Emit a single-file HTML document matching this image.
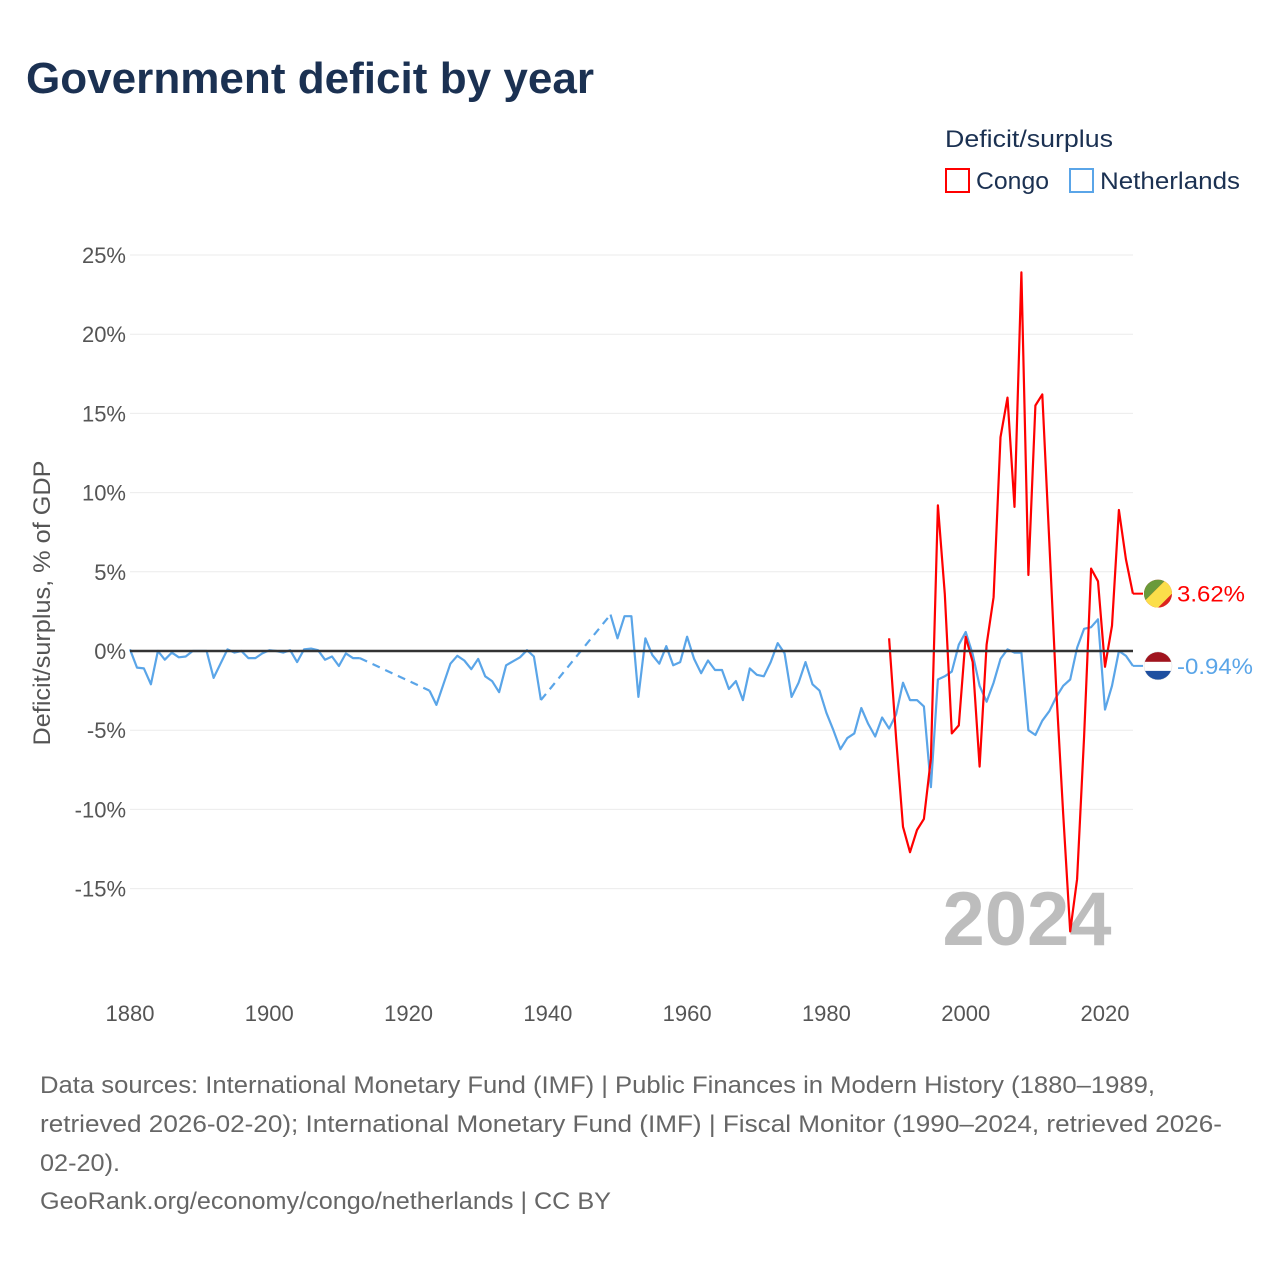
<!DOCTYPE html>
<html><head><meta charset="utf-8">
<style>
body{margin:0;background:#fff;width:1280px;height:1280px;overflow:hidden;font-family:"Liberation Sans",sans-serif;}
svg text{font-family:"Liberation Sans",sans-serif;}
</style></head>
<body>
<svg id="chart" width="1280" height="1280" xmlns="http://www.w3.org/2000/svg">
<text x="26" y="93" font-size="44" font-weight="bold" fill="#1b3152" textLength="568" lengthAdjust="spacingAndGlyphs">Government deficit by year</text>
<text x="945" y="147" font-size="24" fill="#1b3152" textLength="168" lengthAdjust="spacingAndGlyphs">Deficit/surplus</text>
<g><rect x="946" y="169" width="23" height="23" fill="none" stroke="#ff0000" stroke-width="2"/><text x="976" y="189" font-size="24" fill="#1b3152" textLength="73" lengthAdjust="spacingAndGlyphs">Congo</text></g>
<g><rect x="1070" y="169" width="23" height="23" fill="none" stroke="#5aa5e8" stroke-width="2"/><text x="1100" y="189" font-size="24" fill="#1b3152" textLength="140" lengthAdjust="spacingAndGlyphs">Netherlands</text></g>
<g id="grid"></g><g id="yticks"></g><g id="xticks"></g>
<text transform="translate(50,603) rotate(-90)" text-anchor="middle" font-size="24" fill="#555" textLength="285" lengthAdjust="spacingAndGlyphs">Deficit/surplus, % of GDP</text>
<text x="1027" y="945" text-anchor="middle" font-size="76" font-weight="bold" fill="#bdbdbd">2024</text>
<g id="series"></g>
<line id="zero" stroke="#333" stroke-width="2.5"/>
<g id="ends"></g>
<g font-size="24" fill="#666">
<text x="40" y="1093" textLength="1115" lengthAdjust="spacingAndGlyphs">Data sources: International Monetary Fund (IMF) | Public Finances in Modern History (1880–1989,</text>
<text x="40" y="1132" textLength="1182" lengthAdjust="spacingAndGlyphs">retrieved 2026-02-20); International Monetary Fund (IMF) | Fiscal Monitor (1990–2024, retrieved 2026-</text>
<text x="40" y="1171" textLength="80" lengthAdjust="spacingAndGlyphs">02-20).</text>
<text x="40" y="1209" textLength="571" lengthAdjust="spacingAndGlyphs">GeoRank.org/economy/congo/netherlands | CC BY</text>
</g>
</svg>
<script>
const yTicks=[25,20,15,10,5,0,-5,-10,-15];
const xTicks=[1880,1900,1920,1940,1960,1980,2000,2020];
const nlStart=1880;
const nlValues=[0.1,-1.05,-1.1,-2.1,0,-0.55,-0.1,-0.4,-0.35,0,0,0,-1.7,-0.8,0.1,-0.1,0,-0.45,-0.45,-0.15,0.05,0,-0.1,0.05,-0.7,0.1,0.15,0.05,-0.55,-0.35,-0.95,-0.15,-0.45,-0.45,
null,null,null,null,null,null,null,null,null,
-2.5,-3.4,-2.1,-0.8,-0.3,-0.6,-1.15,-0.5,-1.6,-1.9,-2.6,-0.9,-0.65,-0.4,0.05,-0.35,-3.1,
null,null,null,null,null,null,null,null,null,
2.3,0.8,2.2,2.2,-2.9,0.8,-0.25,-0.8,0.3,-0.9,-0.7,0.9,-0.5,-1.4,-0.6,-1.2,-1.2,-2.4,-1.9,-3.1,-1.1,-1.5,-1.6,-0.7,0.5,-0.15,-2.9,-2.0,-0.7,-2.1,-2.5,-3.9,-5.0,-6.2,-5.5,-5.2,-3.6,-4.6,-5.4,-4.2,
-4.9,-4.0,-2.0,-3.1,-3.1,-3.5,-8.6,-1.8,-1.6,-1.3,0.4,1.2,-0.2,-2.2,-3.2,-2.0,-0.5,0.1,-0.1,-0.1,-5.0,-5.3,-4.4,-3.8,-2.9,-2.2,-1.8,0.2,1.4,1.5,2.0,-3.7,-2.2,0,-0.3,-0.94];
const cgStart=1989;
const cgValues=[0.8,-5.5,-11.1,-12.7,-11.3,-10.6,-6.8,9.2,3.6,-5.2,-4.7,0.9,-0.7,-7.3,0.4,3.4,13.5,16.0,9.1,23.9,4.8,15.5,16.2,6.9,-2.5,-10.3,-17.7,-14.4,-5.4,5.2,4.4,-1.0,1.6,8.9,5.8,3.62];
const ns="http://www.w3.org/2000/svg";
const X=y=>130+(y-1880)*(975/140);
const Y=v=>651-v*15.84;
function el(t,a,p){const e=document.createElementNS(ns,t);for(const k in a)e.setAttribute(k,a[k]);document.getElementById(p).appendChild(e);return e;}
yTicks.forEach(v=>{
 const g=el('line',{x1:130,x2:1133,y1:Y(v),y2:Y(v),stroke:'#ebebeb','stroke-width':1},'grid');
 
 
 const t=el('text',{x:126,y:Y(v)+8,'text-anchor':'end','font-size':22,fill:'#555'},'yticks');
 t.textContent=v+'%';
 
 
});
xTicks.forEach(v=>{
 const t=el('text',{x:X(v),y:1021,'text-anchor':'middle','font-size':22,fill:'#555'},'xticks');
 t.textContent=v;
 
 
});
const z=document.getElementById('zero');
z.setAttribute('x1',130);z.setAttribute('x2',1133);z.setAttribute('y1',Y(0));z.setAttribute('y2',Y(0));
function drawSeries(start,vals,color,name){
 let seg=[],last=null;
 const flush=()=>{if(seg.length>1){const p=el('path',{d:'M'+seg.join('L'),fill:'none',stroke:color,'stroke-width':2.2,'stroke-linejoin':'round'},'series');
 
 }seg=[];};
 vals.forEach((v,i)=>{
  const yr=start+i;
  if(v===null){flush();return;}
  if(seg.length===0&&last&&yr-last[0]>1){
   const d=el('line',{x1:X(last[0]),y1:Y(last[1]),x2:X(yr),y2:Y(v),stroke:color,'stroke-width':2.2,'stroke-dasharray':'8,6'},'series');
   
   
  }
  seg.push(X(yr).toFixed(1)+','+Y(v).toFixed(1));last=[yr,v];
 });
 flush();
 return last;
}
const nlLast=drawSeries(nlStart,nlValues,'#5aa5e8','netherlands');
const cgLast=drawSeries(cgStart,cgValues,'#ff0000','congo');
const cgy=Y(cgLast[1]);
const cgl=el('line',{x1:X(cgLast[0]),x2:1143,y1:cgy,y2:cgy,stroke:'#ff0000','stroke-width':2},'ends');


const nly=Y(nlLast[1]);
const nll=el('line',{x1:X(nlLast[0]),x2:1143,y1:nly,y2:nly,stroke:'#5aa5e8','stroke-width':2},'ends');


const ends=document.getElementById('ends');
ends.insertAdjacentHTML('beforeend',
`<g><clipPath id="c1"><circle cx="1158" cy="${cgy}" r="14"/></clipPath><g clip-path="url(#c1)"><rect x="1144" y="${cgy-14}" width="28" height="28" fill="#dc241f"/><polygon points="1144,${cgy-14} 1166,${cgy-14} 1144,${cgy+8}" fill="#6a9a3a"/><polygon points="1166,${cgy-14} 1176,${cgy-14} 1176,${cgy-4} 1150,${cgy+22} 1140,${cgy+22} 1140,${cgy+12}" fill="#fbde4a"/></g></g>
<text x="1177" y="${cgy+8}" font-size="22" fill="#ff0000" textLength="68" lengthAdjust="spacingAndGlyphs">3.62%</text>
<g><clipPath id="c2"><circle cx="1158" cy="${nly}" r="14"/></clipPath><g clip-path="url(#c2)"><rect x="1144" y="${nly-14}" width="28" height="10" fill="#a0141e"/><rect x="1144" y="${nly-4}" width="28" height="9" fill="#fff"/><rect x="1144" y="${nly+5}" width="28" height="10" fill="#1e4fa0"/></g><circle cx="1158" cy="${nly}" r="14" fill="none" stroke="#ddd" stroke-width="0.5"/></g>
<text x="1177" y="${nly+8}" font-size="22" fill="#5aa5e8" textLength="76" lengthAdjust="spacingAndGlyphs">-0.94%</text>`);
</script>
</body></html>
